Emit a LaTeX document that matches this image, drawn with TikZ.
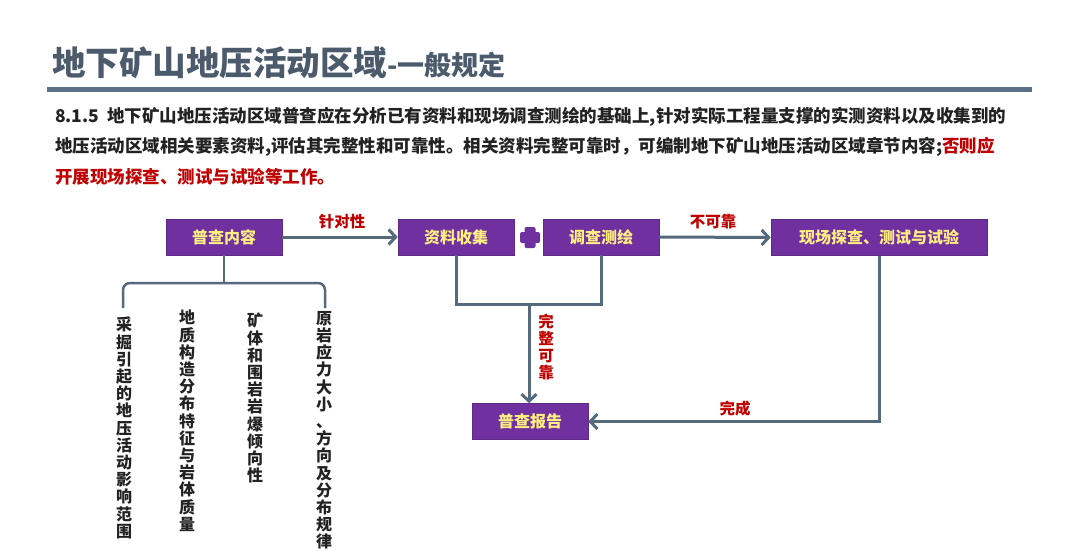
\documentclass[tikz,border=0pt]{standalone}
\usepackage{fontspec}
\setmainfont{Noto Sans CJK SC}
\usetikzlibrary{arrows.meta}
\definecolor{titlecol}{HTML}{4B5B6C}
\definecolor{rulecol}{HTML}{5B6F86}
\definecolor{boxfill}{HTML}{7030A0}
\definecolor{boxtext}{HTML}{FFEF80}
\definecolor{redtext}{HTML}{C00000}
\definecolor{linecol}{HTML}{566A7E}
\definecolor{bodytext}{HTML}{222222}
\tikzset{
  purplebox/.style={fill=boxfill, draw=boxfill!85!black, line width=0.6pt, minimum height=36pt, inner sep=0pt, text=boxtext, font=\fontsize{16}{18}\selectfont\bfseries},
  conn/.style={draw=linecol, line width=3pt},
  arr/.style={conn, -{Straight Barb[length=7pt,width=15pt,line width=3pt]}},
  redlabel/.style={text=redtext, font=\fontsize{15.5}{17}\selectfont\bfseries, inner sep=0pt},
  vlabel/.style={text=bodytext, font=\fontsize{16}{17.2}\selectfont\bfseries, inner sep=0pt, align=center, anchor=north},
  bodyline/.style={anchor=base west, inner sep=0pt, text=bodytext, font=\fontsize{17.5}{20}\selectfont\bfseries}
}
\begin{document}
\begin{tikzpicture}[x=1pt,y=-1pt]
\useasboundingbox[fill=white] (0,0) rectangle (1080,551);
% title
\node[anchor=base west, inner sep=0pt, text=titlecol] (title) at (52,76) {\fontsize{33.5}{36}\selectfont\bfseries 地下矿山地压活动区域\fontsize{27}{30}\selectfont -一般规定};
\fill[rulecol] (47,87) rectangle (1032,92);
% paragraph
\node[bodyline] (l1) at (55,122.5) {8.1.5\ \ 地下矿山地压活动区域普查应在分析已有资料和现场调查测绘的基础上,针对实际工程量支撑的实测资料以及收集到的};
\node[bodyline] (l2) at (55,152.5) {地压活动区域相关要素资料,评估其完整性和可靠性。相关资料完整可靠时，可编制地下矿山地压活动区域章节内容;\textcolor{redtext}{否则应}};
\node[bodyline, text=redtext] (l3) at (55,183.5) {开展现场探查、测试与试验等工作。};
% boxes
\node[purplebox, minimum width=116pt] (pc) at (224,237) {普查内容};
\node[purplebox, minimum width=116pt] (zl) at (456,237) {资料收集};
\node[purplebox, minimum width=116pt] (dc) at (601,237) {调查测绘};
\node[purplebox, minimum width=216pt] (xc) at (879,237.5) {现场探查、测试与试验};
\node[purplebox, minimum width=116pt] (bg) at (530,421.5) {普查报告};
% plus
\fill[boxfill, rounded corners=2pt] (520,232) rectangle (540,243);
\fill[boxfill, rounded corners=2pt] (524.5,227) rectangle (535.5,248);
% arrows
\draw[arr] (pc.east) -- (zl.west);
\node[redlabel] (lb1) at (342,222) {针对性};
\draw[arr] (dc.east) -- (xc.west);
\node[redlabel] (lb2) at (713,222) {不可靠};
\coordinate (j1) at (529,304);
\draw[conn] (zl.south) |- (j1) -| (dc.south);
\draw[arr] (j1) -- (bg.north -| j1);
\node[redlabel, align=center, font=\fontsize{15.5}{17}\selectfont\bfseries] (lb3) at (546,347) {完\\整\\可\\靠};
\draw[arr] (xc.south) |- (bg.east);
\node[redlabel] (lb4) at (735,409) {完成};
% brace
\coordinate (bc) at (224,283);
\draw[conn, line width=2.5pt] (pc.south) -- (bc);
\draw[conn, line width=2.5pt, rounded corners=7pt] (123,308) |- (bc);
\draw[conn, line width=2.5pt, rounded corners=7pt] (325,308) |- (bc);
% vertical texts
\node[vlabel] (v1) at (124,317) {采\\掘\\引\\起\\的\\地\\压\\活\\动\\影\\响\\范\\围};
\node[vlabel] (v2) at (187,310) {地\\质\\构\\造\\分\\布\\特\\征\\与\\岩\\体\\质\\量};
\node[vlabel] (v3) at (255,313) {矿\\体\\和\\围\\岩\\岩\\爆\\倾\\向\\性};
\node[vlabel] (v4) at (324,311) {原\\岩\\应\\力\\大\\小\\、\\方\\向\\及\\分\\布\\规\\律};
\end{tikzpicture}
\end{document}
